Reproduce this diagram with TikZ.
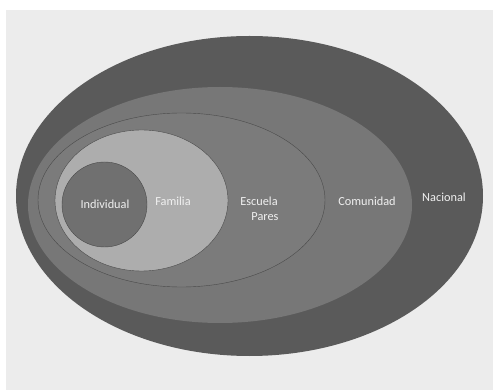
\documentclass[tikz,border=0pt]{standalone}
\usepackage{fontspec}
\setmainfont{Carlito}
\definecolor{fondo}{HTML}{ECECEC}
\definecolor{nacional}{HTML}{5A5A5A}
\definecolor{comunidad}{HTML}{777777}
\definecolor{escuela}{HTML}{7B7B7B}
\definecolor{familia}{HTML}{ADADAD}
\definecolor{individual}{HTML}{707070}
\definecolor{borde}{HTML}{4A4A4A}

\begin{document}
\begin{tikzpicture}[x=1pt,y=-1pt,
	nivel/.style={text=white!94!black,font=\fontsize{12.3}{14}\selectfont,inner sep=1pt}]
		%page and background
		\useasboundingbox (0,0) rectangle (493,390);
		\fill[white] (0,0) rectangle (493,390);
		\fill[fondo] (6,10) rectangle (493,390);
		
		%levels
		\fill[nacional] (249.5,196) ellipse (233.5 and 160);
		\fill[comunidad] (220,205) ellipse (192 and 118);
		\filldraw[escuela, draw=borde, thin] (181.5,200) ellipse (143.5 and 87);
		\filldraw[familia, draw=borde, thin] (141.5,200.5) ellipse (86.5 and 70.5);
		\filldraw[individual, draw=borde, thin] (104.5,204.5) circle (42.5);
		
		%labels
		\node[nivel] (individual) at (105,204) {Individual};
		\node[nivel] (familia) at (173,201) {Familia};
		\node[nivel] (escuela) at (259,201) {Escuela};
		\node[nivel] (pares) at (265,217) {Pares};
		\node[nivel] (comunidad) at (367,201) {Comunidad};
		\node[nivel] (nacional) at (444,197) {Nacional};
		
\end{tikzpicture}
\end{document}
